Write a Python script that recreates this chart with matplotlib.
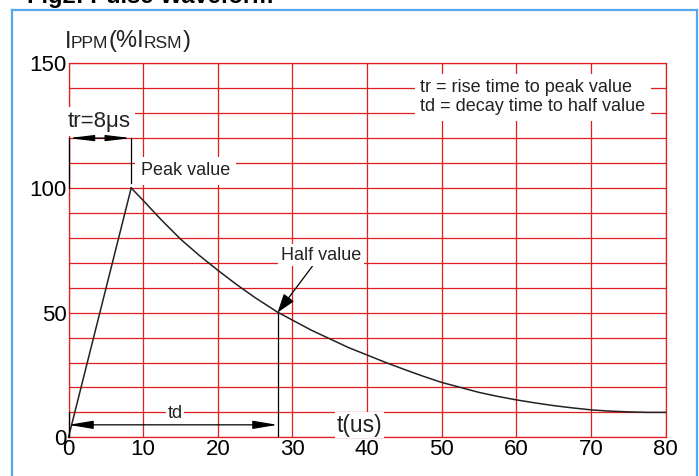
import matplotlib
matplotlib.use("Agg")
import matplotlib.pyplot as plt
from matplotlib.lines import Line2D
from matplotlib.offsetbox import TextArea, HPacker, AnnotationBbox

plt.rcParams['font.family'] = ['Liberation Sans', 'DejaVu Sans']

# ---- data ----
rise_t = [0, 8.4]
rise_i = [0, 100]
decay_t = [8.4, 10, 12.5, 15, 17.5, 20, 22.5, 25, 28, 30, 32.5, 35, 37.5, 40,
           42.5, 45, 47.5, 50, 52.5, 55, 57.5, 60, 62.5, 65, 67.5, 70, 72.5,
           75, 77.5, 80]
decay_i = [100, 95, 87, 79.5, 73, 67, 61.3, 56, 50.2, 47, 43, 39.5, 36, 33,
           30, 27.2, 24.5, 22, 20, 18, 16.4, 15, 13.8, 12.7, 11.8, 11, 10.5,
           10.2, 10, 10]
x_ticks = [0, 10, 20, 30, 40, 50, 60, 70, 80]
x_tick_labels = ['0', '10', '20', '30', '40', '50', '60', '70', '80']
y_ticks = [0, 10, 20, 30, 40, 50, 60, 70, 80, 90, 100, 110, 120, 130, 140, 150]
y_tick_labels = ['0', '', '', '', '', '50', '', '', '', '', '100', '', '', '', '', '150']
t_peak = 8.4     # rise time marker
t_half = 28      # decay time to half value
i_half = 50

RED = '#e31c1c'
BLUE = '#55a8ec'
TXT = '#222222'

fig = plt.figure(figsize=(6.99, 4.76), dpi=100)
fig.patch.set_facecolor('white')

# blue frame around the figure
fw, fh = 699.0, 476.0
x0, x1, ytop = 12 / fw, 696.5 / fw, 1 - 10 / fh
for xs, ys in [([x0, x0], [-0.05, ytop]), ([x0, x1], [ytop, ytop]), ([x1, x1], [ytop, -0.05])]:
    fig.add_artist(Line2D(xs, ys, transform=fig.transFigure, color=BLUE, lw=1.6))

# clipped title
fig.text(27 / fw, 1 - 3.5 / fh, 'Fig2: Pulse Waveform', fontsize=17, fontweight='bold',
         color='black', ha='left', va='baseline')

ax = fig.add_axes([68.5 / fw, 1 - 437.3 / fh, (665.7 - 68.5) / fw, (437.3 - 63.3) / fh])
ax.set_xlim(0, 80)
ax.set_ylim(0, 150)
ax.set_xticks(x_ticks)
ax.set_xticklabels(x_tick_labels)
ax.set_yticks(y_ticks)
ax.set_yticklabels(y_tick_labels)
ax.tick_params(axis='both', length=0, labelsize=16, colors='black')
ax.tick_params(axis='x', pad=1.5)
ax.tick_params(axis='y', pad=1.5)
ax.grid(True, color=RED, lw=0.9)
ax.set_axisbelow(True)
for s in ax.spines.values():
    s.set_color(RED)
    s.set_linewidth(0.9)

# waveform
ax.plot(rise_t, rise_i, color='#222222', lw=1.1, zorder=4, clip_on=False)
ax.plot(decay_t, decay_i, color='#222222', lw=1.1, zorder=4, clip_on=False)

box = dict(facecolor='white', edgecolor='none')

# y-axis label  I_PPM(%I_RSM) with small caps parts
parts = [('I', 17), ('PPM', 12.5), ('(%I', 17), ('RSM', 12.5), (')', 17)]
areas = [TextArea(s, textprops=dict(fontsize=f, color=TXT)) for s, f in parts]
pack = HPacker(children=areas, align='baseline', pad=0, sep=0)
ab = AnnotationBbox(pack, (64.5 / fw, 1 - 41.5 / fh), xycoords='figure fraction',
                    box_alignment=(0, 0.5), frameon=False, pad=0)
fig.add_artist(ab)

# tr dimension
ax.plot([0, 0], [100, 120], color='black', lw=0.9, zorder=5, clip_on=False)
ax.plot([t_peak, t_peak], [102, 120], color='black', lw=0.9, zorder=5)
ax.annotate('', xy=(0, 120), xytext=(t_peak, 120),
            arrowprops=dict(arrowstyle='<|-|>,head_length=1.5,head_width=0.18',
                            color='black', lw=0.9, shrinkA=0, shrinkB=0),
            zorder=6, annotation_clip=False)
ax.text(4.1, 126.6, 'tr=8μs', fontsize=16, color=TXT, ha='center', va='center',
        bbox=dict(box, pad=3), zorder=5, clip_on=False)

# td dimension
ax.plot([0, 0], [0, 10], color='black', lw=0.9, zorder=5, clip_on=False)
ax.plot([t_half, t_half], [0.5, i_half], color='black', lw=0.9, zorder=5)
ax.annotate('', xy=(0, 5), xytext=(t_half, 5),
            arrowprops=dict(arrowstyle='<|-|>,head_length=1.5,head_width=0.25',
                            color='black', lw=0.9, shrinkA=0, shrinkB=0),
            zorder=6, annotation_clip=False)
ax.text(14.3, 9.4, 'td', fontsize=13, color=TXT, ha='center', va='center',
        bbox=dict(box, pad=1), zorder=5)

# labels
ax.text(15.66, 106.9, 'Peak value', fontsize=13, color=TXT, ha='center', va='center',
        bbox=dict(box, pad=4), zorder=5)
ax.annotate('Half value', xy=(t_half, i_half), xytext=(33.8, 73.1), fontsize=13,
            color=TXT, ha='center', va='center', bbox=dict(box, pad=2), zorder=5,
            arrowprops=dict(arrowstyle='-|>,head_length=0.9,head_width=0.3',
                            color='black', lw=0.9, shrinkA=0, shrinkB=0,
                            relpos=(0.42, 0.0)))
ax.text(39.0, 4.9, 't(us)', fontsize=16.5, color=TXT, ha='center', va='center',
        bbox=dict(box, pad=1), zorder=5)
ax.text(47.1, 136.3, 'tr = rise time to peak value\ntd = decay time to half value',
        fontsize=13, color=TXT, ha='left', va='center', linespacing=1.15,
        bbox=dict(box, pad=4), zorder=5)

fig.savefig('out.png', dpi=100)
